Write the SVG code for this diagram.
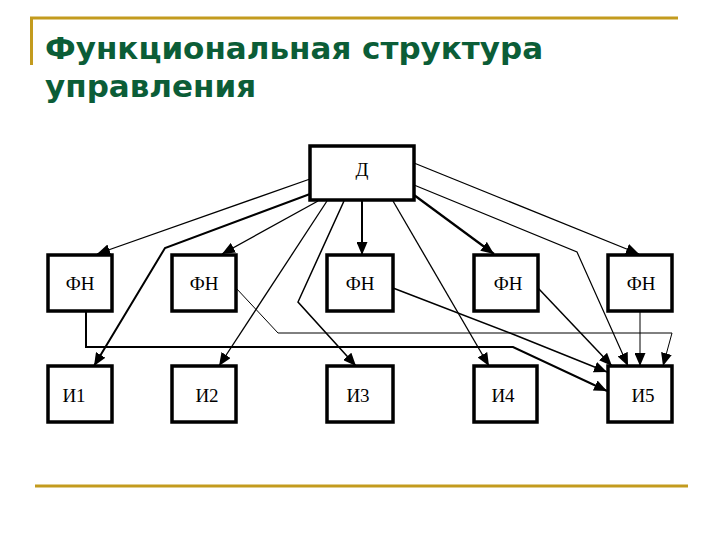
<svg xmlns="http://www.w3.org/2000/svg" width="720" height="540" viewBox="0 0 720 540">
<style>
.title{font-family:"DejaVu Sans","Liberation Sans",sans-serif;font-weight:bold;font-size:31px;fill:#0B5D37}
.gold{stroke:#C39B1E;fill:none}
.box{fill:#fff;stroke:#000;stroke-width:3.5}
.lbl{font-family:"Liberation Serif","DejaVu Serif",serif;font-size:19px;fill:#000;text-anchor:middle}
.c{fill:none;stroke:#000;marker-end:url(#arr)}
</style>
<defs>
<marker id="arr" markerUnits="userSpaceOnUse" markerWidth="13" markerHeight="11" refX="13" refY="5.5" orient="auto">
<path d="M0,0 L13,5.5 L0,11 z" fill="#000"/>
</marker>
</defs>
<rect width="720" height="540" fill="#fff"/>
<g id="frame">
<line class="gold" x1="30" y1="18" x2="678" y2="18" stroke-width="3"/>
<line class="gold" x1="31.5" y1="18" x2="31.5" y2="65" stroke-width="3"/>
<line class="gold" x1="35" y1="486" x2="688" y2="486" stroke-width="3"/>
</g>
<g id="title">
<text class="title" x="45" y="59">Функциональная структура</text>
<text class="title" x="45" y="97">управления</text>
</g>
<g id="connectors">
<path class="c" stroke-width="1.3" d="M310,179 L97,254"/>
<path class="c" stroke-width="2" d="M310,194 L165,248 L94,366"/>
<path class="c" stroke-width="1.3" d="M318,201 L222,254"/>
<path class="c" stroke-width="1.3" d="M327,201 L219,366"/>
<path class="c" stroke-width="1.5" d="M344,201 L298,302 L356,366"/>
<path class="c" stroke-width="2" d="M362,201 L362,255"/>
<path class="c" stroke-width="1.3" d="M393,201 L489,366"/>
<path class="c" stroke-width="1.2" d="M414,163 L639,254"/>
<path class="c" stroke-width="1.2" d="M414,185 L577,252 L628,366"/>
<path class="c" stroke-width="2.2" d="M414,195 L494,254"/>
<path class="c" stroke-width="2" d="M86,311 L86,347 L513,347 L607,391"/>
<path class="c" stroke-width="1" d="M236,288 L278,333 L672,333 L663,366"/>
<path class="c" stroke-width="1.5" d="M393,288 L510,333 L607,372"/>
<path class="c" stroke-width="1.5" d="M538,288 L612,366"/>
<path class="c" stroke-width="1" d="M640,311 L640,366"/>
</g>
<g id="D"><rect class="box" x="310" y="146" width="104" height="54"/><text class="lbl" x="362" y="176">Д</text></g>
<g id="FN1"><rect class="box" x="48" y="255" width="64" height="56"/><text class="lbl" x="80" y="290">ФН</text></g>
<g id="FN2"><rect class="box" x="172" y="255" width="64" height="56"/><text class="lbl" x="204" y="290">ФН</text></g>
<g id="FN3"><rect class="box" x="327" y="255" width="66" height="56"/><text class="lbl" x="360" y="290">ФН</text></g>
<g id="FN4"><rect class="box" x="474" y="255" width="64" height="56"/><text class="lbl" x="508" y="290">ФН</text></g>
<g id="FN5"><rect class="box" x="608" y="255" width="64" height="56"/><text class="lbl" x="641" y="290">ФН</text></g>
<g id="I1"><rect class="box" x="48" y="366" width="64" height="56"/><text class="lbl" x="74" y="402">И1</text></g>
<g id="I2"><rect class="box" x="172" y="366" width="64" height="56"/><text class="lbl" x="207" y="402">И2</text></g>
<g id="I3"><rect class="box" x="327" y="366" width="66" height="56"/><text class="lbl" x="358" y="402">И3</text></g>
<g id="I4"><rect class="box" x="474" y="366" width="63" height="56"/><text class="lbl" x="503" y="402">И4</text></g>
<g id="I5"><rect class="box" x="608" y="366" width="64" height="56"/><text class="lbl" x="643" y="402">И5</text></g>
</svg>
